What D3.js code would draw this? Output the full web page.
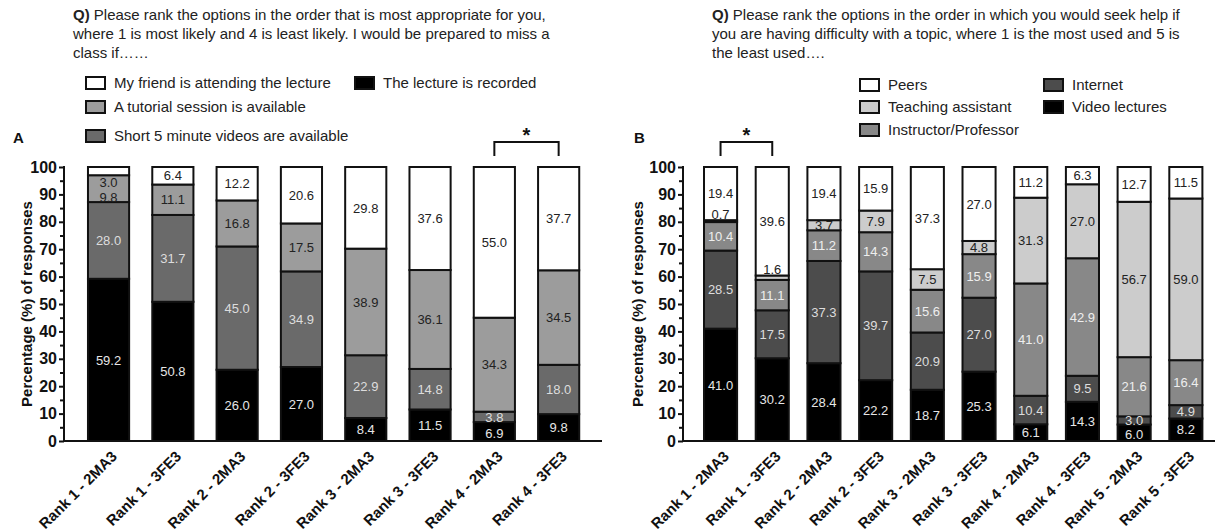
<!DOCTYPE html>
<html>
<head>
<meta charset="utf-8">
<script src="https://cdn.jsdelivr.net/npm/d3@7"></script>
<style>
body { margin:0; background:#fff; }
svg text { font-family: Arial, "Liberation Sans", sans-serif; fill:#222; }
</style>
</head>
<body>
<script>

// ---- panel A data (stack from bottom to top) ----
var categoriesA = ["Rank 1 - 2MA3","Rank 1 - 3FE3","Rank 2 - 2MA3","Rank 2 - 3FE3","Rank 3 - 2MA3","Rank 3 - 3FE3","Rank 4 - 2MA3","Rank 4 - 3FE3"];
var seriesA = ["The lecture is recorded","Short 5 minute videos are available","A tutorial session is available","My friend is attending the lecture"];
var recordedA = [59.2, 50.8, 26.0, 27.0, 8.4, 11.5, 6.9, 9.8];
var videosA   = [28.0, 31.7, 45.0, 34.9, 22.9, 14.8, 3.8, 18.0];
var tutorialA = [9.8, 11.1, 16.8, 17.5, 38.9, 36.1, 34.3, 34.5];
var friendA   = [3.0, 6.4, 12.2, 20.6, 29.8, 37.6, 55.0, 37.7];

// ---- panel B data (stack from bottom to top) ----
var categoriesB = ["Rank 1 - 2MA3","Rank 1 - 3FE3","Rank 2 - 2MA3","Rank 2 - 3FE3","Rank 3 - 2MA3","Rank 3 - 3FE3","Rank 4 - 2MA3","Rank 4 - 3FE3","Rank 5 - 2MA3","Rank 5 - 3FE3"];
var seriesB = ["Video lectures","Internet","Instructor/Professor","Teaching assistant","Peers"];
var videoB      = [41.0, 30.2, 28.4, 22.2, 18.7, 25.3, 6.1, 14.3, 6.0, 8.2];
var internetB   = [28.5, 17.5, 37.3, 39.7, 20.9, 27.0, 10.4, 9.5, 3.0, 4.9];
var instructorB = [10.4, 11.1, 11.2, 14.3, 15.6, 15.9, 41.0, 42.9, 21.6, 16.4];
var taB         = [0.7, 1.6, 3.7, 7.9, 7.5, 4.8, 31.3, 27.0, 56.7, 59.0];
var peersB      = [19.4, 39.6, 19.4, 15.9, 37.3, 27.0, 11.2, 6.3, 12.7, 11.5];

var yTicks = [0,10,20,30,40,50,60,70,80,90,100];
var yMinor = [5,15,25,35,45,55,65,75,85,95];

var w = 1218, h = 531;

var svg = d3.select("body")
	.append("svg")
	.attr("width", w)
	.attr("height", h);

var yScale = d3.scaleLinear()
	.domain([0, 100])
	.range([441, 167]);

function drawPanel(cfg){
	var rows = cfg.categories.map(function(c, i){
		var r = {cat: c};
		cfg.series.forEach(function(s, j){ r[s] = cfg.values[j][i]; });
		return r;
	});
	var stack = d3.stack().keys(cfg.series)(rows);
	var nS = cfg.series.length;

	var xScale = d3.scaleBand()
		.domain(cfg.categories)
		.range(cfg.bandRange)
		.paddingInner(0.36)
		.paddingOuter(0.18);

	var g = svg.append("g");

	// bars
	stack.forEach(function(layer, j){
		g.selectAll(".seg" + j)
			.data(layer)
			.enter()
			.append("rect")
			.attr("x", function(d){ return xScale(d.data.cat); })
			.attr("width", xScale.bandwidth())
			.attr("y", function(d){ return yScale(d[1]); })
			.attr("height", function(d){ return yScale(d[0]) - yScale(d[1]); })
			.attr("fill", cfg.colors[j])
			.attr("stroke", "#111")
			.attr("stroke-width", 2);
	});

	function size(j, i){ return stack[j][i][1] - stack[j][i][0]; }

	// value labels, small segments get pushed out of the way
	stack.forEach(function(layer, j){
		var top = j == nS - 1;
		g.selectAll(".lab" + j)
			.data(layer)
			.enter()
			.append("text")
			.attr("x", function(d){ return xScale(d.data.cat) + xScale.bandwidth()/2; })
			.attr("y", function(d, i){
				var v = d[1] - d[0];
				var mid = (d[0] + d[1]) / 2;
				if (v < 2.5) mid = d[1] + 2.2;
				else if (top && v < 3.5) mid = d[0] - 2.6;
				else if (j == nS - 2 && size(j+1, i) < 3.5) mid = d[0] + 1.8;
				else if (j == 0 && v < 7 && size(1, i) < 5) mid = d[1] * 0.38;
				return yScale(mid);
			})
			.attr("dy", "0.36em")
			.attr("text-anchor", "middle")
			.attr("font-size", 13)
			.style("fill", function(d){
				var v = d[1] - d[0];
				if (v < 2.5 || (top && v < 3.5)) return "#222";
				return cfg.labelColors[j];
			})
			.text(function(d){ return d3.format(".1f")(d[1] - d[0]); });
	});

	// axes
	var yAxis = d3.axisLeft(yScale)
		.tickValues(yTicks)
		.tickSize(5)
		.tickPadding(2);
	var ya = g.append("g")
		.attr("transform", "translate(" + cfg.axisX + ",0)")
		.call(yAxis);
	ya.select(".domain").remove();
	ya.selectAll("line").attr("stroke", "#111").attr("stroke-width", 2);
	ya.selectAll("text").attr("font-size", 16).attr("font-weight", "bold").style("fill", "#111");

	var ym = g.append("g")
		.attr("transform", "translate(" + cfg.axisX + ",0)")
		.call(d3.axisLeft(yScale).tickValues(yMinor).tickSize(4).tickFormat(""));
	ym.select(".domain").remove();
	ym.selectAll("line").attr("stroke", "#111").attr("stroke-width", 2);

	g.append("line")
		.attr("x1", cfg.axisX).attr("x2", cfg.axisX)
		.attr("y1", yScale(100) - 1).attr("y2", yScale(0) + 1)
		.attr("stroke", "#111").attr("stroke-width", 2);
	g.append("line")
		.attr("x1", cfg.axisX).attr("x2", cfg.axisEnd)
		.attr("y1", yScale(0)).attr("y2", yScale(0))
		.attr("stroke", "#111").attr("stroke-width", 2);

	// x labels
	g.selectAll(".xl")
		.data(cfg.categories)
		.enter()
		.append("text")
		.attr("transform", function(d){
			return "translate(" + (xScale(d) + xScale.bandwidth()/2 + 4) + ",452) rotate(-45)";
		})
		.attr("text-anchor", "end")
		.attr("dy", "0.5em")
		.attr("font-size", 15)
		.attr("font-weight", "bold")
		.style("fill", "#111")
		.text(function(d){ return d; });

	// y title
	g.append("text")
		.attr("transform", "translate(" + cfg.titleX + "," + yScale(50) + ") rotate(-90)")
		.attr("text-anchor", "middle")
		.attr("dy", "0.35em")
		.attr("font-size", 15)
		.attr("font-weight", "bold")
		.style("fill", "#111")
		.text("Percentage (%) of responses");

	// panel letter
	g.append("text")
		.attr("x", cfg.letterX).attr("y", 143)
		.attr("font-size", 15).attr("font-weight", "bold")
		.style("fill", "#111")
		.text(cfg.letter);

	// question text
	var q = g.append("text")
		.attr("font-size", 15);
	cfg.question.forEach(function(line, i){
		var t = q.append("tspan")
			.attr("x", cfg.qX)
			.attr("y", 20 + i * 19);
		if (i == 0) {
			t.append("tspan").attr("font-weight", "bold").text("Q)");
			t.append("tspan").text(line);
		} else {
			t.text(line);
		}
	});

	// legend
	cfg.legend.forEach(function(it){
		g.append("rect")
			.attr("x", it.x).attr("y", it.y - 6)
			.attr("width", 19).attr("height", 12)
			.attr("fill", cfg.colors[cfg.series.indexOf(it.name)])
			.attr("stroke", "#111").attr("stroke-width", 2);
		g.append("text")
			.attr("x", it.x + 28).attr("y", it.y)
			.attr("dy", "0.35em")
			.attr("font-size", 15)
			.text(it.name);
	});

	// significance bracket
	var a = xScale(cfg.categories[cfg.sig[0]]) + xScale.bandwidth()/2;
	var b = xScale(cfg.categories[cfg.sig[1]]) + xScale.bandwidth()/2;
	g.append("path")
		.attr("d", "M" + a + ",156V142H" + b + "V156")
		.attr("fill", "none")
		.attr("stroke", "#111")
		.attr("stroke-width", 2);
	g.append("text")
		.attr("x", (a + b) / 2).attr("y", 142)
		.attr("text-anchor", "middle")
		.attr("font-size", 20).attr("font-weight", "bold")
		.style("fill", "#111")
		.text("*");
}

drawPanel({
	categories: categoriesA,
	series: seriesA,
	values: [recordedA, videosA, tutorialA, friendA],
	colors: ["#000000", "#6a6a6a", "#9c9c9c", "#ffffff"],
	labelColors: ["#e6e6e6", "#dddddd", "#222222", "#222222"],
	bandRange: [76.4, 590.8],
	axisX: 64,
	axisEnd: 602,
	titleX: 27,
	letter: "A",
	letterX: 13,
	qX: 73,
	question: [
		" Please rank the options in the order that is most appropriate for you,",
		"where 1 is most likely and 4 is least likely. I would be prepared to miss a",
		"class if……"
	],
	legend: [
		{name: "My friend is attending the lecture", x: 86, y: 83},
		{name: "A tutorial session is available", x: 86, y: 107},
		{name: "Short 5 minute videos are available", x: 86, y: 136},
		{name: "The lecture is recorded", x: 355, y: 83}
	],
	sig: [6, 7]
});

drawPanel({
	categories: categoriesB,
	series: seriesB,
	values: [videoB, internetB, instructorB, taB, peersB],
	colors: ["#000000", "#4c4c4c", "#888888", "#cccccc", "#ffffff"],
	labelColors: ["#e6e6e6", "#dddddd", "#eeeeee", "#222222", "#222222"],
	bandRange: [694.7, 1211.7],
	axisX: 683,
	axisEnd: 1215,
	titleX: 638,
	letter: "B",
	letterX: 634,
	qX: 712,
	question: [
		" Please rank the options in the order in which you would seek help if",
		"you are having difficulty with a topic, where 1 is the most used and 5 is",
		"the least used…."
	],
	legend: [
		{name: "Peers", x: 860, y: 85},
		{name: "Teaching assistant", x: 860, y: 107},
		{name: "Instructor/Professor", x: 860, y: 130},
		{name: "Internet", x: 1044, y: 85},
		{name: "Video lectures", x: 1044, y: 107}
	],
	sig: [0, 1]
});

</script>
</body>
</html>
